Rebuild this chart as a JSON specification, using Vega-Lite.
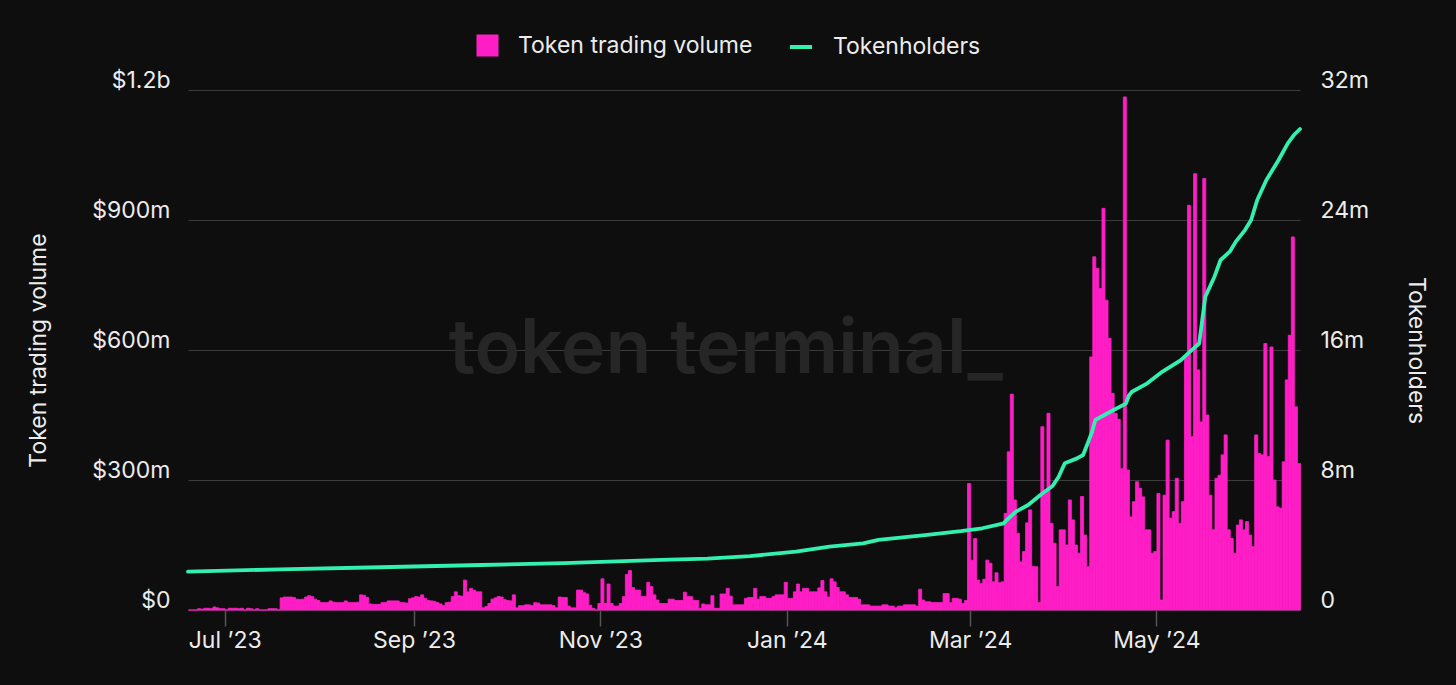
{
  "$schema": "https://vega.github.io/schema/vega-lite/v6.json",
  "width": 1112,
  "height": 520,
  "autosize": {"type": "none"},
  "padding": {"left": 188, "top": 90, "right": 156, "bottom": 75},
  "background": "#0e0e0e",
  "config": {"view": {"stroke": null}, "font": "Inter", "legend": {"labelFont": "Inter", "labelLimit": 400}, "axis": {"labelFont": "Inter", "titleFont": "Inter"}},
  "datasets": {
    "volume": [
      {"date":"2023-06-19","volume":0},{"date":"2023-06-20","volume":0},{"date":"2023-06-21","volume":0},{"date":"2023-06-22","volume":3},{"date":"2023-06-23","volume":2},{"date":"2023-06-24","volume":4},{"date":"2023-06-25","volume":4},{"date":"2023-06-26","volume":3},{"date":"2023-06-27","volume":7},{"date":"2023-06-28","volume":5},{"date":"2023-06-29","volume":3},{"date":"2023-06-30","volume":3},
      {"date":"2023-07-01","volume":0},{"date":"2023-07-02","volume":4},{"date":"2023-07-03","volume":4},{"date":"2023-07-04","volume":4},{"date":"2023-07-05","volume":3},{"date":"2023-07-06","volume":4},{"date":"2023-07-07","volume":0},{"date":"2023-07-08","volume":4},{"date":"2023-07-09","volume":3},{"date":"2023-07-10","volume":0},{"date":"2023-07-11","volume":3},{"date":"2023-07-12","volume":0},{"date":"2023-07-13","volume":0},{"date":"2023-07-14","volume":0},{"date":"2023-07-15","volume":3},{"date":"2023-07-16","volume":3},{"date":"2023-07-17","volume":3},{"date":"2023-07-18","volume":0},{"date":"2023-07-19","volume":28},{"date":"2023-07-20","volume":30},{"date":"2023-07-21","volume":30},{"date":"2023-07-22","volume":30},{"date":"2023-07-23","volume":29},{"date":"2023-07-24","volume":25},{"date":"2023-07-25","volume":24},{"date":"2023-07-26","volume":25},{"date":"2023-07-27","volume":30},{"date":"2023-07-28","volume":33},{"date":"2023-07-29","volume":31},{"date":"2023-07-30","volume":25},{"date":"2023-07-31","volume":22},
      {"date":"2023-08-01","volume":17},{"date":"2023-08-02","volume":17},{"date":"2023-08-03","volume":17},{"date":"2023-08-04","volume":21},{"date":"2023-08-05","volume":18},{"date":"2023-08-06","volume":17},{"date":"2023-08-07","volume":17},{"date":"2023-08-08","volume":17},{"date":"2023-08-09","volume":21},{"date":"2023-08-10","volume":17},{"date":"2023-08-11","volume":17},{"date":"2023-08-12","volume":17},{"date":"2023-08-13","volume":18},{"date":"2023-08-14","volume":35},{"date":"2023-08-15","volume":34},{"date":"2023-08-16","volume":29},{"date":"2023-08-17","volume":14},{"date":"2023-08-18","volume":13},{"date":"2023-08-19","volume":13},{"date":"2023-08-20","volume":13},{"date":"2023-08-21","volume":17},{"date":"2023-08-22","volume":17},{"date":"2023-08-23","volume":21},{"date":"2023-08-24","volume":21},{"date":"2023-08-25","volume":21},{"date":"2023-08-26","volume":21},{"date":"2023-08-27","volume":17},{"date":"2023-08-28","volume":17},{"date":"2023-08-29","volume":16},{"date":"2023-08-30","volume":26},{"date":"2023-08-31","volume":28},
      {"date":"2023-09-01","volume":31},{"date":"2023-09-02","volume":30},{"date":"2023-09-03","volume":35},{"date":"2023-09-04","volume":27},{"date":"2023-09-05","volume":22},{"date":"2023-09-06","volume":21},{"date":"2023-09-07","volume":20},{"date":"2023-09-08","volume":17},{"date":"2023-09-09","volume":14},{"date":"2023-09-10","volume":10},{"date":"2023-09-11","volume":17},{"date":"2023-09-12","volume":18},{"date":"2023-09-13","volume":31},{"date":"2023-09-14","volume":42},{"date":"2023-09-15","volume":33},{"date":"2023-09-16","volume":32},{"date":"2023-09-17","volume":69},{"date":"2023-09-18","volume":42},{"date":"2023-09-19","volume":50},{"date":"2023-09-20","volume":46},{"date":"2023-09-21","volume":42},{"date":"2023-09-22","volume":42},{"date":"2023-09-23","volume":5},{"date":"2023-09-24","volume":8},{"date":"2023-09-25","volume":15},{"date":"2023-09-26","volume":25},{"date":"2023-09-27","volume":28},{"date":"2023-09-28","volume":31},{"date":"2023-09-29","volume":30},{"date":"2023-09-30","volume":24},
      {"date":"2023-10-01","volume":22},{"date":"2023-10-02","volume":21},{"date":"2023-10-03","volume":35},{"date":"2023-10-04","volume":5},{"date":"2023-10-05","volume":10},{"date":"2023-10-06","volume":10},{"date":"2023-10-07","volume":12},{"date":"2023-10-08","volume":12},{"date":"2023-10-09","volume":10},{"date":"2023-10-10","volume":17},{"date":"2023-10-11","volume":16},{"date":"2023-10-12","volume":12},{"date":"2023-10-13","volume":12},{"date":"2023-10-14","volume":12},{"date":"2023-10-15","volume":12},{"date":"2023-10-16","volume":10},{"date":"2023-10-17","volume":5},{"date":"2023-10-18","volume":30},{"date":"2023-10-19","volume":29},{"date":"2023-10-20","volume":29},{"date":"2023-10-21","volume":9},{"date":"2023-10-22","volume":5},{"date":"2023-10-23","volume":5},{"date":"2023-10-24","volume":46},{"date":"2023-10-25","volume":46},{"date":"2023-10-26","volume":40},{"date":"2023-10-27","volume":37},{"date":"2023-10-28","volume":11},{"date":"2023-10-29","volume":4},{"date":"2023-10-30","volume":0},{"date":"2023-10-31","volume":15},
      {"date":"2023-11-01","volume":72},{"date":"2023-11-02","volume":15},{"date":"2023-11-03","volume":60},{"date":"2023-11-04","volume":15},{"date":"2023-11-05","volume":9},{"date":"2023-11-06","volume":9},{"date":"2023-11-07","volume":15},{"date":"2023-11-08","volume":31},{"date":"2023-11-09","volume":82},{"date":"2023-11-10","volume":91},{"date":"2023-11-11","volume":52},{"date":"2023-11-12","volume":46},{"date":"2023-11-13","volume":46},{"date":"2023-11-14","volume":31},{"date":"2023-11-15","volume":31},{"date":"2023-11-16","volume":64},{"date":"2023-11-17","volume":54},{"date":"2023-11-18","volume":35},{"date":"2023-11-19","volume":23},{"date":"2023-11-20","volume":15},{"date":"2023-11-21","volume":15},{"date":"2023-11-22","volume":15},{"date":"2023-11-23","volume":25},{"date":"2023-11-24","volume":25},{"date":"2023-11-25","volume":22},{"date":"2023-11-26","volume":22},{"date":"2023-11-27","volume":22},{"date":"2023-11-28","volume":41},{"date":"2023-11-29","volume":31},{"date":"2023-11-30","volume":31},
      {"date":"2023-12-01","volume":22},{"date":"2023-12-02","volume":22},{"date":"2023-12-03","volume":4},{"date":"2023-12-04","volume":14},{"date":"2023-12-05","volume":12},{"date":"2023-12-06","volume":12},{"date":"2023-12-07","volume":33},{"date":"2023-12-08","volume":4},{"date":"2023-12-09","volume":4},{"date":"2023-12-10","volume":37},{"date":"2023-12-11","volume":37},{"date":"2023-12-12","volume":50},{"date":"2023-12-13","volume":32},{"date":"2023-12-14","volume":12},{"date":"2023-12-15","volume":12},{"date":"2023-12-16","volume":12},{"date":"2023-12-17","volume":12},{"date":"2023-12-18","volume":27},{"date":"2023-12-19","volume":29},{"date":"2023-12-20","volume":29},{"date":"2023-12-21","volume":50},{"date":"2023-12-22","volume":25},{"date":"2023-12-23","volume":31},{"date":"2023-12-24","volume":31},{"date":"2023-12-25","volume":27},{"date":"2023-12-26","volume":27},{"date":"2023-12-27","volume":31},{"date":"2023-12-28","volume":35},{"date":"2023-12-29","volume":35},{"date":"2023-12-30","volume":35},{"date":"2023-12-31","volume":64},
      {"date":"2024-01-01","volume":27},{"date":"2024-01-02","volume":27},{"date":"2024-01-03","volume":42},{"date":"2024-01-04","volume":60},{"date":"2024-01-05","volume":42},{"date":"2024-01-06","volume":50},{"date":"2024-01-07","volume":50},{"date":"2024-01-08","volume":42},{"date":"2024-01-09","volume":42},{"date":"2024-01-10","volume":42},{"date":"2024-01-11","volume":51},{"date":"2024-01-12","volume":68},{"date":"2024-01-13","volume":42},{"date":"2024-01-14","volume":30},{"date":"2024-01-15","volume":72},{"date":"2024-01-16","volume":65},{"date":"2024-01-17","volume":52},{"date":"2024-01-18","volume":42},{"date":"2024-01-19","volume":42},{"date":"2024-01-20","volume":35},{"date":"2024-01-21","volume":29},{"date":"2024-01-22","volume":29},{"date":"2024-01-23","volume":29},{"date":"2024-01-24","volume":25},{"date":"2024-01-25","volume":12},{"date":"2024-01-26","volume":12},{"date":"2024-01-27","volume":12},{"date":"2024-01-28","volume":9},{"date":"2024-01-29","volume":9},{"date":"2024-01-30","volume":9},{"date":"2024-01-31","volume":9},
      {"date":"2024-02-01","volume":12},{"date":"2024-02-02","volume":12},{"date":"2024-02-03","volume":9},{"date":"2024-02-04","volume":9},{"date":"2024-02-05","volume":5},{"date":"2024-02-06","volume":9},{"date":"2024-02-07","volume":9},{"date":"2024-02-08","volume":12},{"date":"2024-02-09","volume":12},{"date":"2024-02-10","volume":12},{"date":"2024-02-11","volume":12},{"date":"2024-02-12","volume":9},{"date":"2024-02-13","volume":48},{"date":"2024-02-14","volume":23},{"date":"2024-02-15","volume":19},{"date":"2024-02-16","volume":19},{"date":"2024-02-17","volume":17},{"date":"2024-02-18","volume":17},{"date":"2024-02-19","volume":17},{"date":"2024-02-20","volume":17},{"date":"2024-02-21","volume":38},{"date":"2024-02-22","volume":38},{"date":"2024-02-23","volume":17},{"date":"2024-02-24","volume":27},{"date":"2024-02-25","volume":27},{"date":"2024-02-26","volume":25},{"date":"2024-02-27","volume":15},{"date":"2024-02-28","volume":22},{"date":"2024-02-29","volume":292},
      {"date":"2024-03-01","volume":115},{"date":"2024-03-02","volume":165},{"date":"2024-03-03","volume":69},{"date":"2024-03-04","volume":61},{"date":"2024-03-05","volume":71},{"date":"2024-03-06","volume":115},{"date":"2024-03-07","volume":108},{"date":"2024-03-08","volume":65},{"date":"2024-03-09","volume":86},{"date":"2024-03-10","volume":63},{"date":"2024-03-11","volume":65},{"date":"2024-03-12","volume":223},{"date":"2024-03-13","volume":365},{"date":"2024-03-14","volume":498},{"date":"2024-03-15","volume":254},{"date":"2024-03-16","volume":177},{"date":"2024-03-17","volume":111},{"date":"2024-03-18","volume":135},{"date":"2024-03-19","volume":201},{"date":"2024-03-20","volume":231},{"date":"2024-03-21","volume":100},{"date":"2024-03-22","volume":100},{"date":"2024-03-23","volume":17},{"date":"2024-03-24","volume":423},{"date":"2024-03-25","volume":277},{"date":"2024-03-26","volume":454},{"date":"2024-03-27","volume":200},{"date":"2024-03-28","volume":154},{"date":"2024-03-29","volume":54},{"date":"2024-03-30","volume":185},{"date":"2024-03-31","volume":185},
      {"date":"2024-04-01","volume":150},{"date":"2024-04-02","volume":254},{"date":"2024-04-03","volume":208},{"date":"2024-04-04","volume":150},{"date":"2024-04-05","volume":131},{"date":"2024-04-06","volume":262},{"date":"2024-04-07","volume":173},{"date":"2024-04-08","volume":100},{"date":"2024-04-09","volume":584},{"date":"2024-04-10","volume":815},{"date":"2024-04-11","volume":788},{"date":"2024-04-12","volume":742},{"date":"2024-04-13","volume":927},{"date":"2024-04-14","volume":715},{"date":"2024-04-15","volume":627},{"date":"2024-04-16","volume":500},{"date":"2024-04-17","volume":454},{"date":"2024-04-18","volume":440},{"date":"2024-04-19","volume":326},{"date":"2024-04-20","volume":1184},{"date":"2024-04-21","volume":323},{"date":"2024-04-22","volume":215},{"date":"2024-04-23","volume":250},{"date":"2024-04-24","volume":296},{"date":"2024-04-25","volume":281},{"date":"2024-04-26","volume":261},{"date":"2024-04-27","volume":185},{"date":"2024-04-28","volume":185},{"date":"2024-04-29","volume":131},{"date":"2024-04-30","volume":135},
      {"date":"2024-05-01","volume":269},{"date":"2024-05-02","volume":23},{"date":"2024-05-03","volume":265},{"date":"2024-05-04","volume":392},{"date":"2024-05-05","volume":212},{"date":"2024-05-06","volume":227},{"date":"2024-05-07","volume":304},{"date":"2024-05-08","volume":200},{"date":"2024-05-09","volume":250},{"date":"2024-05-10","volume":584},{"date":"2024-05-11","volume":934},{"date":"2024-05-12","volume":400},{"date":"2024-05-13","volume":1007},{"date":"2024-05-14","volume":554},{"date":"2024-05-15","volume":434},{"date":"2024-05-16","volume":996},{"date":"2024-05-17","volume":450},{"date":"2024-05-18","volume":265},{"date":"2024-05-19","volume":185},{"date":"2024-05-20","volume":304},{"date":"2024-05-21","volume":311},{"date":"2024-05-22","volume":358},{"date":"2024-05-23","volume":404},{"date":"2024-05-24","volume":185},{"date":"2024-05-25","volume":165},{"date":"2024-05-26","volume":131},{"date":"2024-05-27","volume":196},{"date":"2024-05-28","volume":208},{"date":"2024-05-29","volume":185},{"date":"2024-05-30","volume":204},{"date":"2024-05-31","volume":173},
      {"date":"2024-06-01","volume":146},{"date":"2024-06-02","volume":404},{"date":"2024-06-03","volume":361},{"date":"2024-06-04","volume":358},{"date":"2024-06-05","volume":615},{"date":"2024-06-06","volume":354},{"date":"2024-06-07","volume":607},{"date":"2024-06-08","volume":300},{"date":"2024-06-09","volume":238},{"date":"2024-06-10","volume":235},{"date":"2024-06-11","volume":342},{"date":"2024-06-12","volume":531},{"date":"2024-06-13","volume":634},{"date":"2024-06-14","volume":861},{"date":"2024-06-15","volume":469},{"date":"2024-06-16","volume":338}
    ],
    "holders": [
      {"date":"2023-06-19","holders":2.36},{"date":"2023-07-19","holders":2.5},{"date":"2023-08-21","holders":2.63},{"date":"2023-09-23","holders":2.77},{"date":"2023-10-20","holders":2.88},{"date":"2023-11-21","holders":3.08},{"date":"2023-12-06","holders":3.16},{"date":"2023-12-20","holders":3.32},{"date":"2024-01-04","holders":3.59},{"date":"2024-01-15","holders":3.9},{"date":"2024-01-26","holders":4.1},{"date":"2024-01-31","holders":4.31},{"date":"2024-02-16","holders":4.62},{"date":"2024-02-27","holders":4.85},{"date":"2024-03-05","holders":5.03},{"date":"2024-03-12","holders":5.33},{"date":"2024-03-13","holders":5.54},{"date":"2024-03-16","holders":6.05},{"date":"2024-03-20","holders":6.46},{"date":"2024-03-24","holders":7.08},{"date":"2024-03-28","holders":7.63},{"date":"2024-03-30","holders":8.2},{"date":"2024-04-01","holders":9.03},{"date":"2024-04-05","holders":9.33},{"date":"2024-04-07","holders":9.54},{"date":"2024-04-09","holders":10.5},{"date":"2024-04-10","holders":11.0},{"date":"2024-04-11","holders":11.69},{"date":"2024-04-17","holders":12.31},{"date":"2024-04-21","holders":12.7},{"date":"2024-04-22","holders":13.2},{"date":"2024-04-23","holders":13.43},{"date":"2024-04-28","holders":13.95},{"date":"2024-05-03","holders":14.67},{"date":"2024-05-09","holders":15.38},{"date":"2024-05-12","holders":15.9},{"date":"2024-05-15","holders":16.4},{"date":"2024-05-16","holders":17.85},{"date":"2024-05-17","holders":19.28},{"date":"2024-05-20","holders":20.51},{"date":"2024-05-22","holders":21.54},{"date":"2024-05-25","holders":22.05},{"date":"2024-05-27","holders":22.67},{"date":"2024-05-30","holders":23.38},{"date":"2024-06-01","holders":24.0},{"date":"2024-06-03","holders":25.23},{"date":"2024-06-06","holders":26.46},{"date":"2024-06-08","holders":27.08},{"date":"2024-06-10","holders":27.69},{"date":"2024-06-13","holders":28.72},{"date":"2024-06-15","holders":29.23},{"date":"2024-06-17","holders":29.6}
    ],
    "watermark": [{"date":"2023-12-12","volume":600,"label":"token terminal_"}]
  },
  "layer": [
    {
      "data": {"name": "watermark"},
      "mark": {"type": "text", "fontSize": 75, "fontWeight": 600, "font": "Inter", "color": "#262626", "align": "center", "baseline": "middle"},
      "encoding": {
        "x": {"field": "date", "type": "temporal", "title": null},
        "y": {"field": "volume", "type": "quantitative", "scale": {"domain": [0, 1200], "nice": false}, "axis": null},
        "text": {"field": "label"}
      }
    },
    {
      "data": {"name": "volume"},
      "mark": {"type": "bar", "stroke": "#ff1ec6", "strokeWidth": 0.8, "binSpacing": 0},
      "encoding": {
        "x": {
          "field": "date", "type": "temporal", "timeUnit": "utcyearmonthdate", "title": null,
          "scale": {"type": "utc", "domain": [{"year": 2023, "month": 6, "date": 19, "utc": true}, {"year": 2024, "month": 6, "date": 17, "utc": true}]},
          "axis": {"tickCount": {"interval": "month", "step": 2}, "format": "%b ’%y", "labelFontSize": 23, "labelColor": "#ececec", "domainColor": "#3b3b3b", "domainWidth": 1.5, "tickColor": "#555555", "tickSize": 16, "tickWidth": 1.5, "labelPadding": 3, "grid": false, "labelFlush": false, "labelOverlap": false}
        },
        "y": {
          "field": "volume", "type": "quantitative", "scale": {"domain": [0, 1200], "nice": false},
          "axis": {"orient": "left", "values": [0, 300, 600, 900, 1200], "labelExpr": "datum.value == 0 ? '$0' : (datum.value >= 1000 ? '$' + (datum.value / 1000) + 'b' : '$' + datum.value + 'm')", "grid": true, "gridColor": "#3b3b3b", "gridWidth": 1, "domain": false, "ticks": false, "labelPadding": 18, "labelFontSize": 23, "labelColor": "#ececec", "labelBaseline": "alphabetic", "labelOffset": -3, "labelFlush": false, "labelOverlap": false, "title": "Token trading volume", "titleFontSize": 23, "titleFontWeight": "normal", "titleColor": "#ececec", "titleX": -150, "titleY": 260, "titleAngle": -90, "titleAlign": "center", "titleBaseline": "middle"}
        },
        "fill": {
          "datum": "Token trading volume", "type": "nominal", "scale": {"range": ["#ff1ec6"]},
          "legend": {"orient": "none", "legendX": 288, "legendY": -56, "title": null, "symbolType": "square", "symbolSize": 484, "symbolStrokeWidth": 0, "symbolOpacity": 1, "labelFontSize": 23, "labelColor": "#ececec", "labelOffset": 19, "labelLimit": 400, "padding": 0}
        }
      }
    },
    {
      "data": {"name": "holders"},
      "mark": {"type": "line", "strokeWidth": 3.8, "strokeJoin": "round", "strokeCap": "round"},
      "encoding": {
        "x": {"field": "date", "type": "temporal", "title": null},
        "y": {
          "field": "holders", "type": "quantitative", "scale": {"domain": [0, 32], "nice": false},
          "axis": {"orient": "right", "values": [0, 8, 16, 24, 32], "labelExpr": "datum.value == 0 ? '0' : datum.value + 'm'", "grid": false, "domain": false, "ticks": false, "labelPadding": 20, "labelFontSize": 23, "labelColor": "#ececec", "labelBaseline": "alphabetic", "labelOffset": -3, "labelFlush": false, "labelOverlap": false, "title": "Tokenholders", "titleFontSize": 23, "titleFontWeight": "normal", "titleColor": "#ececec", "titleX": 115, "titleY": 260, "titleAngle": 90, "titleAlign": "center", "titleBaseline": "middle"}
        },
        "stroke": {
          "datum": "Tokenholders", "type": "nominal", "scale": {"range": ["#33efb0"]},
          "legend": {"orient": "none", "legendX": 600, "legendY": -56, "title": null, "symbolType": "stroke", "symbolSize": 484, "symbolStrokeWidth": 4, "labelFontSize": 23, "labelColor": "#ececec", "labelOffset": 19, "labelLimit": 400, "padding": 0}
        }
      }
    }
  ],
  "resolve": {"scale": {"y": "independent"}}
}
